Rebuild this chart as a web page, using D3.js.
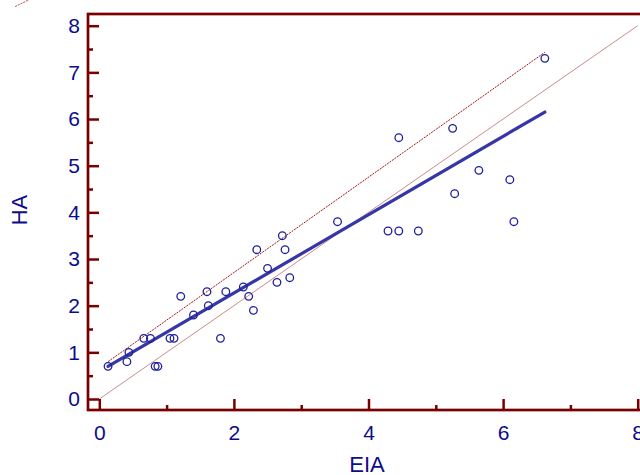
<!DOCTYPE html>
<html>
<head>
<meta charset="utf-8">
<script src="https://cdn.jsdelivr.net/npm/d3@7"></script>
<style>
  body { margin: 0; background: #fff; }
  svg { display: block; font-family: "Liberation Sans", Arial, sans-serif; }
</style>
</head>
<body>
<svg id="chart" width="640" height="475"></svg>
<script>
// data
var eia = [0.13, 0.41, 0.44, 0.66, 0.76, 0.83, 0.87, 1.05, 1.11, 1.21, 1.40, 1.60, 1.62, 1.80, 1.88,
           2.14, 2.22, 2.29, 2.34, 2.50, 2.64, 2.72, 2.76, 2.83, 3.54, 4.29, 4.45, 4.45, 4.74,
           5.25, 5.28, 5.64, 6.10, 6.16, 6.62];
var ha  = [0.7, 0.8, 1.0, 1.3, 1.3, 0.7, 0.7, 1.3, 1.3, 2.2, 1.8, 2.3, 2.0, 1.3, 2.3,
           2.4, 2.2, 1.9, 3.2, 2.8, 2.5, 3.5, 3.2, 2.6, 3.8, 3.6, 3.6, 5.6, 3.6,
           5.8, 4.4, 4.9, 4.7, 3.8, 7.3];

var fitLine = [[0.13, 0.70], [6.62, 6.15]];      // regression line
var upperLine = [[0.13, 0.80], [6.62, 7.43]];    // dashed line
var identityLine = [[0, 0], [8, 8]];             // x = y
var strayLine = [[-1.25, 8.41], [-1.04, 8.56]];  // little dashed bit top left

var xTicks = [0, 2, 4, 6, 8];
var xMinor = [1, 3, 5, 7];
var yTicks = [0, 1, 2, 3, 4, 5, 6, 7, 8];
var yMinor = [0.5, 1.5, 2.5, 3.5, 4.5, 5.5, 6.5, 7.5];

var axisColor = "#7a0000";
var textColor = "#0c0c8a";

var svg = d3.select("#chart");

// frame
var frame = { left: 88, top: 14, right: 648, bottom: 410 };

var x = d3.scaleLinear().domain([0, 8]).range([99.3, 637.7]);
var y = d3.scaleLinear().domain([0, 8]).range([399, 25.7]);

var line = d3.line()
    .x(function(d) { return x(d[0]); })
    .y(function(d) { return y(d[1]); });

// identity
svg.append("path")
    .attr("d", line(identityLine))
    .attr("fill", "none")
    .attr("stroke", "#cf8a8a")
    .attr("stroke-width", 1);

// upper dashed
svg.append("path")
    .attr("d", line(upperLine))
    .attr("fill", "none")
    .attr("stroke", "#a31515")
    .attr("stroke-width", 1)
    .attr("stroke-dasharray", "2,1");

svg.append("path")
    .attr("d", line(strayLine))
    .attr("fill", "none")
    .attr("stroke", "#c04040")
    .attr("stroke-width", 1)
    .attr("stroke-dasharray", "2,1");

// regression line
svg.append("path")
    .attr("d", line(fitLine))
    .attr("fill", "none")
    .attr("stroke", "#3636a6")
    .attr("stroke-width", 3.2)
    .attr("stroke-linecap", "round");

// points
svg.append("g")
    .selectAll("circle")
    .data(eia)
    .enter().append("circle")
    .attr("cx", function(d) { return x(d); })
    .attr("cy", function(d, i) { return y(ha[i]); })
    .attr("r", 3.8)
    .attr("fill", "none")
    .attr("stroke", "#1e1e9c")
    .attr("stroke-width", 1.3);

// axes, ticks inward
var yAxis = svg.append("g")
    .attr("transform", "translate(" + frame.left + ",0)")
    .call(d3.axisLeft(y).tickValues(yTicks).tickSizeInner(-11).tickSizeOuter(0).tickPadding(8));

var yAxisMinor = svg.append("g")
    .attr("transform", "translate(" + frame.left + ",0)")
    .call(d3.axisLeft(y).tickValues(yMinor).tickSizeInner(-5).tickSizeOuter(0).tickFormat(""));

var xAxis = svg.append("g")
    .attr("transform", "translate(0," + frame.bottom + ")")
    .call(d3.axisBottom(x).tickValues(xTicks).tickSizeInner(-11).tickSizeOuter(0).tickPadding(15));

var xAxisMinor = svg.append("g")
    .attr("transform", "translate(0," + frame.bottom + ")")
    .call(d3.axisBottom(x).tickValues(xMinor).tickSizeInner(-5).tickSizeOuter(0).tickFormat(""));

[yAxis, yAxisMinor, xAxis, xAxisMinor].forEach(function(g) {
    g.select(".domain").remove();
    g.selectAll(".tick line")
        .attr("stroke", axisColor)
        .attr("stroke-width", 2.5);
    g.selectAll(".tick text")
        .attr("fill", textColor)
        .style("font-size", "21px")
        .style("font-family", "'Liberation Sans', Arial, sans-serif");
});

// frame lines
svg.append("rect")
    .attr("x", frame.left)
    .attr("y", frame.top)
    .attr("width", frame.right - frame.left)
    .attr("height", frame.bottom - frame.top)
    .attr("fill", "none")
    .attr("stroke", axisColor)
    .attr("stroke-width", 2.7);

// axis titles
svg.append("text")
    .attr("x", 367)
    .attr("y", 472)
    .attr("text-anchor", "middle")
    .attr("fill", textColor)
    .style("font-size", "22px")
    .text("EIA");

svg.append("text")
    .attr("transform", "translate(27,210) rotate(-90)")
    .attr("text-anchor", "middle")
    .attr("fill", textColor)
    .style("font-size", "22px")
    .text("HA");
</script>
</body>
</html>
